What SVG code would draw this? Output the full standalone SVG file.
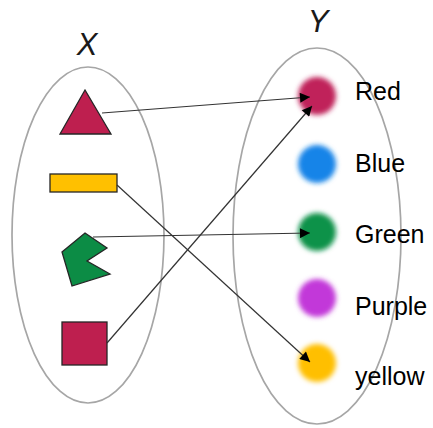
<svg xmlns="http://www.w3.org/2000/svg" width="433" height="428" viewBox="0 0 433 428">
  <style>
    .set { fill: none; stroke: #a6a6a6; stroke-width: 1.7; }
    .shape { stroke: #262626; stroke-width: 1.3; }
    .crimson { fill: #be1f4f; }
    .title { font-family: "Liberation Sans", Arial, sans-serif; font-style: italic; font-size: 31px; fill: #1a1a1a; }
    .label { font-family: "Liberation Sans", Arial, sans-serif; font-size: 25px; fill: #000; }
    .conn { stroke: #333; stroke-width: 1.2; fill: none; marker-end: url(#arrow); }
    .dot { filter: url(#soft); }
  </style>
  <defs>
    <marker id="arrow" viewBox="0 0 10 10" refX="10" refY="5" markerWidth="12" markerHeight="10" markerUnits="userSpaceOnUse" orient="auto">
      <path d="M0,0 L10,5 L0,10 Z" fill="#000"/>
    </marker>
    <filter id="soft" x="-50%" y="-50%" width="200%" height="200%">
      <feGaussianBlur stdDeviation="2.8"/>
    </filter>
  </defs>
  <rect width="433" height="428" fill="#fff"/>

  <g id="setX">
    <ellipse class="set" cx="88" cy="235" rx="76" ry="168"/>
    <text class="title" x="87" y="55" text-anchor="middle">X</text>
  </g>
  <g id="setY">
    <ellipse class="set" cx="317" cy="236" rx="84" ry="188"/>
    <text class="title" x="318" y="32" text-anchor="middle">Y</text>
  </g>

  <g id="triangle">
    <polygon class="shape crimson" points="85,90 60,134 111,134"/>
  </g>
  <g id="rectangle">
    <rect class="shape" x="50" y="174" width="67" height="18" fill="#ffc000"/>
  </g>
  <g id="pentagon">
    <polygon class="shape" fill="#0c8c45" points="85,233 107,248 87,261 110,274 72,286 62,252"/>
  </g>
  <g id="square">
    <rect class="shape crimson" x="62" y="322" width="45" height="43"/>
  </g>

  <g id="red">
    <circle class="dot" cx="317" cy="96" r="19" fill="#c0235a"/>
    <text class="label" x="355" y="100">Red</text>
  </g>
  <g id="blue">
    <circle class="dot" cx="317" cy="164" r="19" fill="#1784e8"/>
    <text class="label" x="355" y="172">Blue</text>
  </g>
  <g id="green">
    <circle class="dot" cx="317" cy="232" r="19" fill="#0f924a"/>
    <text class="label" x="355" y="243">Green</text>
  </g>
  <g id="purple">
    <circle class="dot" cx="317" cy="298" r="19" fill="#c238d9"/>
    <text class="label" x="355" y="315">Purple</text>
  </g>
  <g id="yellow">
    <circle class="dot" cx="317" cy="363" r="19" fill="#ffbf00"/>
    <text class="label" x="355" y="385">yellow</text>
  </g>

  <g id="connectors">
    <line class="conn" x1="102" y1="113" x2="310" y2="97"/>
    <line class="conn" x1="117" y1="185" x2="310" y2="362"/>
    <line class="conn" x1="93" y1="237" x2="310" y2="233"/>
    <line class="conn" x1="107" y1="343" x2="312" y2="106"/>
  </g>
</svg>
